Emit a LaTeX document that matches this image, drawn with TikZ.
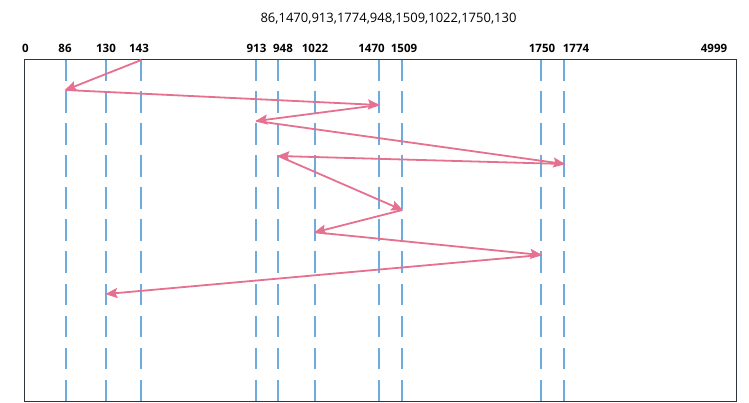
\documentclass[tikz,border=0pt]{standalone}
\usepackage{fontspec}
\setmainfont{Open Sans}
\usetikzlibrary{arrows.meta}
\definecolor{pinkline}{HTML}{E5708F}
\definecolor{blueline}{HTML}{6FACDE}
\definecolor{boxcol}{HTML}{2B3640}
\tikzset{
  guide/.style={draw=blueline, line width=2pt, dash pattern=on 21.5pt off 10.5pt},
  seq/.style={draw=pinkline, line width=1.8pt, -{Stealth[length=12pt,width=10pt,inset=2pt]}, shorten >=-1pt},
  axislab/.style={font=\bfseries\fontsize{11.5}{12}\selectfont, text=black, inner sep=0pt, anchor=base},
  titlelab/.style={font=\fontsize{13}{15}\selectfont, text=black, inner sep=0pt, anchor=base}
}
\begin{document}
\begin{tikzpicture}[x=1pt,y=-1pt]
\useasboundingbox (0,0) rectangle (749,403);
% title
\node[titlelab] (title) at (388.5,23) {86,1470,913,1774,948,1509,1022,1750,130};
% axis labels
\node[axislab] (l0) at (25.5,53) {0};
\node[axislab] (l86) at (65,53) {86};
\node[axislab] (l130) at (106,53) {130};
\node[axislab] (l143) at (139,53) {143};
\node[axislab] (l913) at (256.5,53) {913};
\node[axislab] (l948) at (283,53) {948};
\node[axislab] (l1022) at (315,53) {1022};
\node[axislab] (l1470) at (371.5,53) {1470};
\node[axislab] (l1509) at (404,53) {1509};
\node[axislab] (l1750) at (542,53) {1750};
\node[axislab] (l1774) at (576,53) {1774};
\node[axislab] (l4999) at (714,53) {4999};
% guide lines
\foreach \n/\x in {86/65.5,130/106.3,143/141.3,913/256.3,948/278.3,1022/315,1470/379,1509/402.3,1750/541.3,1774/564.3}{
  \coordinate (t\n) at (\x,59.5);
  \coordinate (b\n) at (\x,401);
  \draw[guide] (t\n) -- (b\n);
}
% frame
\node[draw=boxcol, line width=1pt, inner sep=0pt, minimum width=712.5pt, minimum height=341.5pt, anchor=north west] (frame) at (23.5,59.5) {};
% sequence points
\coordinate (p0) at (141.3,60);
\coordinate (p1) at (65.5,90);
\coordinate (p2) at (379,105);
\coordinate (p3) at (256.3,121);
\coordinate (p4) at (564.3,164);
\coordinate (p5) at (278.3,156);
\coordinate (p6) at (402.3,210);
\coordinate (p7) at (315,232.3);
\coordinate (p8) at (541.3,255);
\coordinate (p9) at (106.3,294);
\draw[seq] (p0) -- (p1);
\draw[seq] (p1) -- (p2);
\draw[seq] (p2) -- (p3);
\draw[seq] (p3) -- (p4);
\draw[seq] (p4) -- (p5);
\draw[seq] (p5) -- (p6);
\draw[seq] (p6) -- (p7);
\draw[seq] (p7) -- (p8);
\draw[seq] (p8) -- (p9);
\end{tikzpicture}
\end{document}
